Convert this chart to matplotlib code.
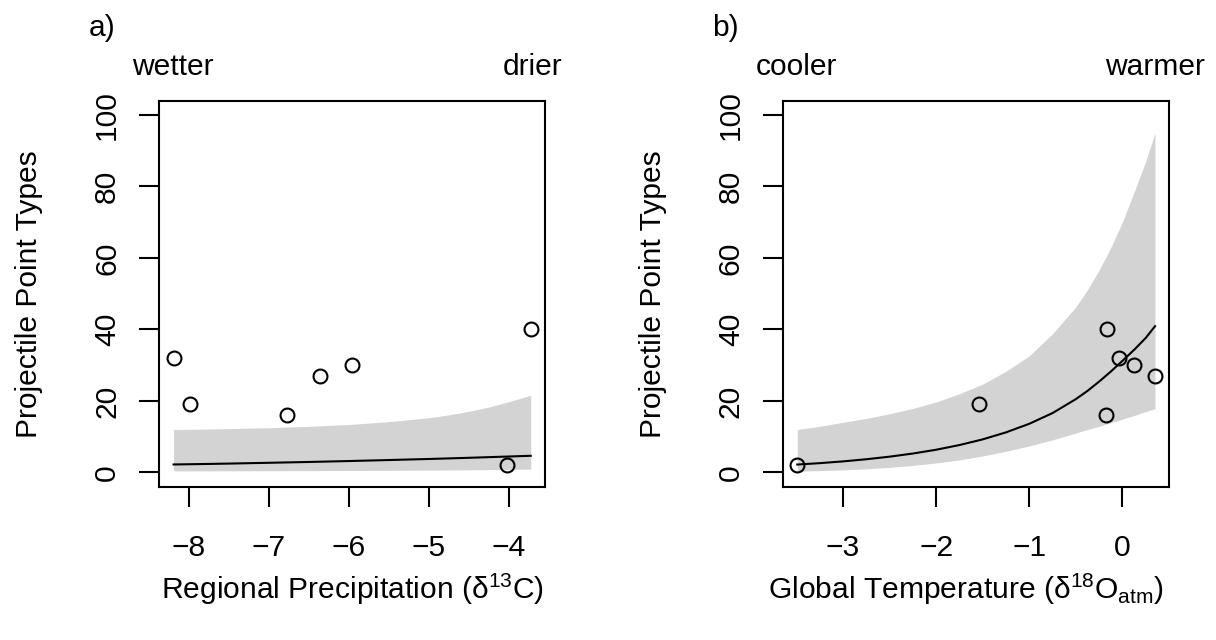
import matplotlib
matplotlib.use("Agg")
import matplotlib.pyplot as plt

plt.rcParams["font.family"] = ["Liberation Sans", "DejaVu Sans"]
plt.rcParams["mathtext.fontset"] = "custom"
plt.rcParams["mathtext.rm"] = "Liberation Sans"
plt.rcParams["mathtext.it"] = "Liberation Sans:italic"
plt.rcParams["mathtext.default"] = "regular"

# ---- observed sites: projectile point types vs. climate proxies ----
point_types = [32, 19, 16, 27, 30, 2, 40]
d13c = [-8.19, -7.98, -6.77, -6.36, -5.96, -4.03, -3.73]
d18o = [-0.04, -1.54, -0.18, 0.35, 0.12, -3.49, -0.16]

# ---- fitted curve and confidence band, panel a (precipitation) ----
fit_x_a = [-8.19, -7.75, -7.5, -7.0, -6.5, -6.0, -5.5, -5.0, -4.75, -4.5,
           -4.25, -4.0, -3.73]
fit_a = [2.22, 2.37, 2.47, 2.69, 2.92, 3.18, 3.46, 3.76, 3.92, 4.09,
         4.27, 4.45, 4.65]
upper_a = [12.0, 12.15, 12.25, 12.5, 12.9, 13.4, 14.2, 15.3, 16.1, 17.1,
           18.3, 19.8, 21.6]
lower_a = [0.42, 0.43, 0.45, 0.47, 0.5, 0.54, 0.58, 0.64, 0.68, 0.72,
           0.78, 0.85, 0.93]

# ---- fitted curve and confidence band, panel b (temperature) ----
fit_x_b = [-3.49, -3.25, -3.0, -2.75, -2.5, -2.25, -2.0, -1.75, -1.5, -1.25,
           -1.0, -0.75, -0.5, -0.375, -0.25, -0.125, 0.0, 0.134, 0.25, 0.35]
fit_b = [2.2, 2.59, 3.08, 3.68, 4.40, 5.28, 6.34, 7.65, 9.24, 11.2,
         13.6, 16.6, 20.5, 22.8, 25.4, 28.2, 31.2, 34.5, 37.6, 40.9]
upper_b = [12.0, 12.9, 14.0, 15.1, 16.4, 17.9, 19.7, 22.0, 24.7, 28.3,
           32.6, 38.8, 46.3, 51.1, 56.6, 62.9, 70.0, 79.0, 87.0, 95.0]
lower_b = [0.35, 0.5, 0.7, 1.0, 1.4, 1.95, 2.65, 3.5, 4.6, 5.9,
           7.4, 9.1, 11.0, 12.0, 12.9, 13.9, 14.9, 16.0, 17.0, 17.8]

x_ticks_a = [-8, -7, -6, -5, -4]
x_labels_a = ["\u22128", "\u22127", "\u22126", "\u22125", "\u22124"]
x_ticks_b = [-3, -2, -1, 0]
x_labels_b = ["\u22123", "\u22122", "\u22121", "0"]
y_ticks = [0, 20, 40, 60, 80, 100]
y_labels = ["0", "20", "40", "60", "80", "100"]

x_titles = ["Regional Precipitation (\u03b4$^{13}$C)",
            "Global Temperature (\u03b4$^{18}$O$_{atm}$)"]
tags = ["a)", "b)"]
left_words = ["wetter", "cooler"]
right_words = ["drier", "warmer"]

W, H = 1216, 640
FS = 21.6
BAND = "#D3D3D3"

fig = plt.figure(figsize=(W / 100, H / 100), dpi=100)


def rect(left, top, right, bottom):
    return [left / W, 1 - bottom / H, (right - left) / W, (bottom - top) / H]


def fx(px):
    return px / W


def fy(py):
    return 1 - py / H


def r_range(vals):
    lo, hi = min(vals), max(vals)
    pad = 0.04 * (hi - lo)
    return lo - pad, hi + pad


def panel(box, xs, ys, fx_, fit, lo, hi, xticks, xlabels):
    ax = fig.add_axes(rect(*box))
    ax.fill_between(fx_, lo, hi, color=BAND, lw=0, zorder=1)
    ax.plot(fx_, fit, color="black", lw=1.5, zorder=2)
    ax.plot(xs, ys, "o", mfc="none", mec="black", ms=10, mew=1.5, zorder=3)
    ax.set_xlim(*r_range(xs))
    ax.set_ylim(*r_range([0, 100]))
    ax.set_xticks(xticks, xlabels)
    ax.set_yticks(y_ticks, y_labels)
    for s in ax.spines.values():
        s.set_linewidth(1.5)
    ax.tick_params(axis="both", direction="out", length=14.4, width=1.5,
                   labelsize=FS)
    ax.tick_params(axis="x", pad=20)
    ax.tick_params(axis="y", pad=13)
    for lab in ax.get_yticklabels():
        lab.set_rotation(90)
        lab.set_va("center")
    return ax


boxes = [(159.3, 100.7, 545.0, 486.7), (783.0, 100.7, 1169.3, 486.7)]
right_word_edge = [562.6, 1205.0]
title_shift = [0, -10]

panel(boxes[0], d13c, point_types, fit_x_a, fit_a, lower_a, upper_a,
      x_ticks_a, x_labels_a)
panel(boxes[1], d18o, point_types, fit_x_b, fit_b, lower_b, upper_b,
      x_ticks_b, x_labels_b)

for i, (l, t, r, b) in enumerate(boxes):
    cx = (l + r) / 2
    cy = (t + b) / 2
    fig.text(fx(l - 71), fy(36), tags[i], fontsize=FS, ha="left",
             va="baseline")
    fig.text(fx(l - 27.5), fy(75), left_words[i], fontsize=FS, ha="left",
             va="baseline")
    fig.text(fx(right_word_edge[i]), fy(75), right_words[i], fontsize=FS,
             ha="right", va="baseline")
    fig.text(fx(l - 122), fy(cy), "Projectile Point Types", fontsize=FS,
             rotation=90, rotation_mode="anchor", ha="center", va="baseline")
    fig.text(fx(cx + title_shift[i]), fy(599), x_titles[i], fontsize=FS,
             ha="center", va="baseline")

fig.savefig("out.png", dpi=100)
